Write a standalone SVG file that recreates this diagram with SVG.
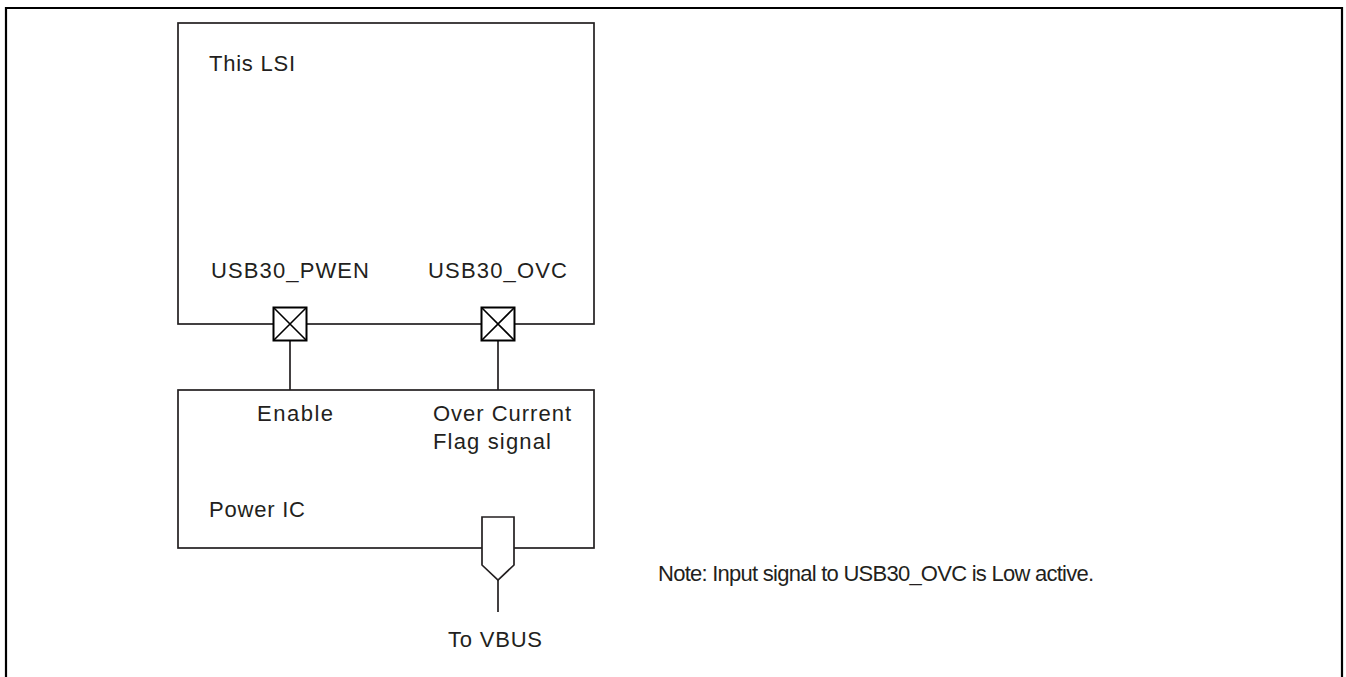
<svg xmlns="http://www.w3.org/2000/svg" width="1346" height="677" viewBox="0 0 1346 677">
<style>
.box{fill:#fff;stroke:#231f20;stroke-width:1.7}
.wire{fill:none;stroke:#231f20;stroke-width:1.7}
.pad{fill:#fff;stroke:#000;stroke-width:2}
.t{font-family:"Liberation Sans",Arial,sans-serif;font-size:22px;fill:#231f20}
</style>
<rect width="1346" height="677" fill="#fff"/>
<path d="M6,680 V8 H1342 V680" fill="none" stroke="#000" stroke-width="2.2"/>
<g id="lsi">
<rect class="box" x="178" y="23" width="416" height="301"/>
<text class="t" x="209" y="71" textLength="86" lengthAdjust="spacing">This LSI</text>
<text class="t" x="211" y="278" textLength="158" lengthAdjust="spacing">USB30_PWEN</text>
<text class="t" x="428" y="278" textLength="139" lengthAdjust="spacing">USB30_OVC</text>
</g>
<g id="power-ic">
<rect class="box" x="178" y="390" width="416" height="158"/>
<text class="t" x="257" y="421" textLength="76" lengthAdjust="spacing">Enable</text>
<text class="t" x="433" y="421" textLength="138" lengthAdjust="spacing">Over Current</text>
<text class="t" x="433" y="449" textLength="118" lengthAdjust="spacing">Flag signal</text>
<text class="t" x="209" y="517" textLength="96" lengthAdjust="spacing">Power IC</text>
</g>
<g id="connectors">
<line class="wire" x1="290" y1="340" x2="290" y2="390"/>
<line class="wire" x1="498" y1="340" x2="498" y2="390"/>
<line class="wire" x1="498" y1="580" x2="498" y2="612"/>
</g>
<g id="pad-pwen">
<rect class="pad" x="273.5" y="307.5" width="33" height="33"/>
<path d="M273.5,307.5 L306.5,340.5 M306.5,307.5 L273.5,340.5" stroke="#000" stroke-width="1.6"/>
</g>
<g id="pad-ovc">
<rect class="pad" x="481.5" y="307.5" width="33" height="33"/>
<path d="M481.5,307.5 L514.5,340.5 M514.5,307.5 L481.5,340.5" stroke="#000" stroke-width="1.6"/>
</g>
<g id="vbus">
<path d="M482,517 H514 V565 L498,580 L482,565 Z" class="box"/>
<text class="t" x="448" y="647" textLength="94" lengthAdjust="spacing">To VBUS</text>
</g>
<g id="note">
<text class="t" x="658" y="581" textLength="436" lengthAdjust="spacing">Note: Input signal to USB30_OVC is Low active.</text>
</g>
</svg>
